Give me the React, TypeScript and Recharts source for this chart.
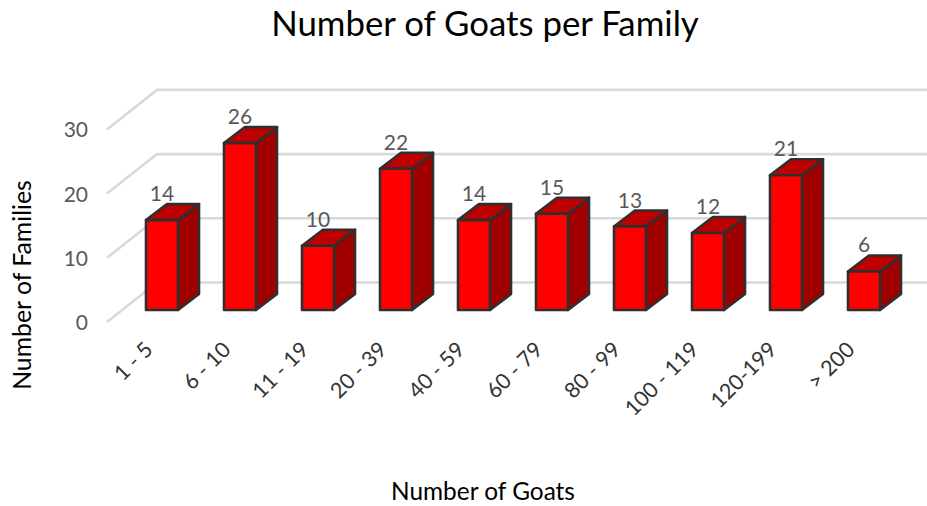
import { BarChart, Bar, XAxis, YAxis, CartesianGrid, LabelList } from 'recharts';

const categories = ['1 - 5', '6 - 10', '11 - 19', '20 - 39', '40 - 59', '60 - 79', '80 - 99', '100 - 119', '120-199', '> 200'];
const families = [14, 26, 10, 22, 14, 15, 13, 12, 21, 6];
const yTicks = [0, 10, 20, 30];

const chartData = categories.map((name, i) => ({ name, families: families[i] }));

const FONT = 'Lato, "Open Sans", sans-serif';
const TEXT_GREY = '#595959';
const DEPTH_X = 21;
const DEPTH_Y = 16;

// front, top and side faces of one column
const Bar3D = ({ x, y, width, height }: any) => {
  const stroke = { stroke: '#2F2F2F', strokeWidth: 2.6, strokeLinejoin: 'round' as const };
  return (
    <g>
      <path
        d={`M${x + width},${y} l${DEPTH_X},${-DEPTH_Y} v${height} l${-DEPTH_X},${DEPTH_Y} z`}
        fill="#A00000"
        {...stroke}
      />
      <path
        d={`M${x},${y} l${DEPTH_X},${-DEPTH_Y} h${width} l${-DEPTH_X},${DEPTH_Y} z`}
        fill="#BE0000"
        {...stroke}
      />
      <rect x={x} y={y} width={width} height={height} fill="#FF0000" {...stroke} />
    </g>
  );
};

// floor/wall line: diagonal on the left, then along the back wall
const GridLine3D = ({ y1, x2 }: any) => (
  <path
    key={y1}
    d={`M107,${y1 + 12} L157,${y1 - 27.5} H${x2 + 24}`}
    fill="none"
    stroke="#D9D9D9"
    strokeWidth={2.6}
  />
);

const XTick = ({ x, y, payload }: any) => (
  <text
    x={x - 8}
    y={y + 33}
    transform={`rotate(-45 ${x - 8} ${y + 33})`}
    textAnchor="end"
    fontFamily={FONT}
    fontSize={21.5}
    fill="#333333"
  >
    {payload.value}
  </text>
);

const YTick = ({ y, payload }: any) => (
  <text x={88} y={y + 20} textAnchor="end" fontFamily={FONT} fontSize={21} fill={TEXT_GREY}>
    {payload.value}
  </text>
);

export default function App() {
  return (
    <div style={{ position: 'absolute', left: 0, top: 0, width: 927, height: 506 }}>
      <BarChart
        width={927}
        height={506}
        data={chartData}
        barSize={32}
        margin={{ top: 117.4, right: 24, bottom: 36, left: 63 }}
      >
        <CartesianGrid vertical={false} horizontal={GridLine3D as any} />
        <XAxis
          dataKey="name"
          height={160}
          interval={0}
          axisLine={false}
          tickLine={false}
          tick={XTick as any}
        />
        <YAxis
          width={60}
          domain={[0, 30]}
          ticks={yTicks}
          axisLine={false}
          tickLine={false}
          tick={YTick as any}
        />
        <Bar dataKey="families" isAnimationActive={false} shape={Bar3D as any}>
          <LabelList
            dataKey="families"
            position="top"
            offset={19}
            fontFamily={FONT}
            fontSize={21}
            fill={TEXT_GREY}
          />
        </Bar>
        <text x={485} y={36} textAnchor="middle" fontFamily={FONT} fontSize={34.8} fill="#000000">
          Number of Goats per Family
        </text>
        <text x={483} y={500} textAnchor="middle" fontFamily={FONT} fontSize={24.4} fill="#000000">
          Number of Goats
        </text>
        <text
          x={31}
          y={285}
          transform="rotate(-90 31 285)"
          textAnchor="middle"
          fontFamily={FONT}
          fontSize={24.8}
          fill="#000000"
        >
          Number of Families
        </text>
      </BarChart>
    </div>
  );
}
